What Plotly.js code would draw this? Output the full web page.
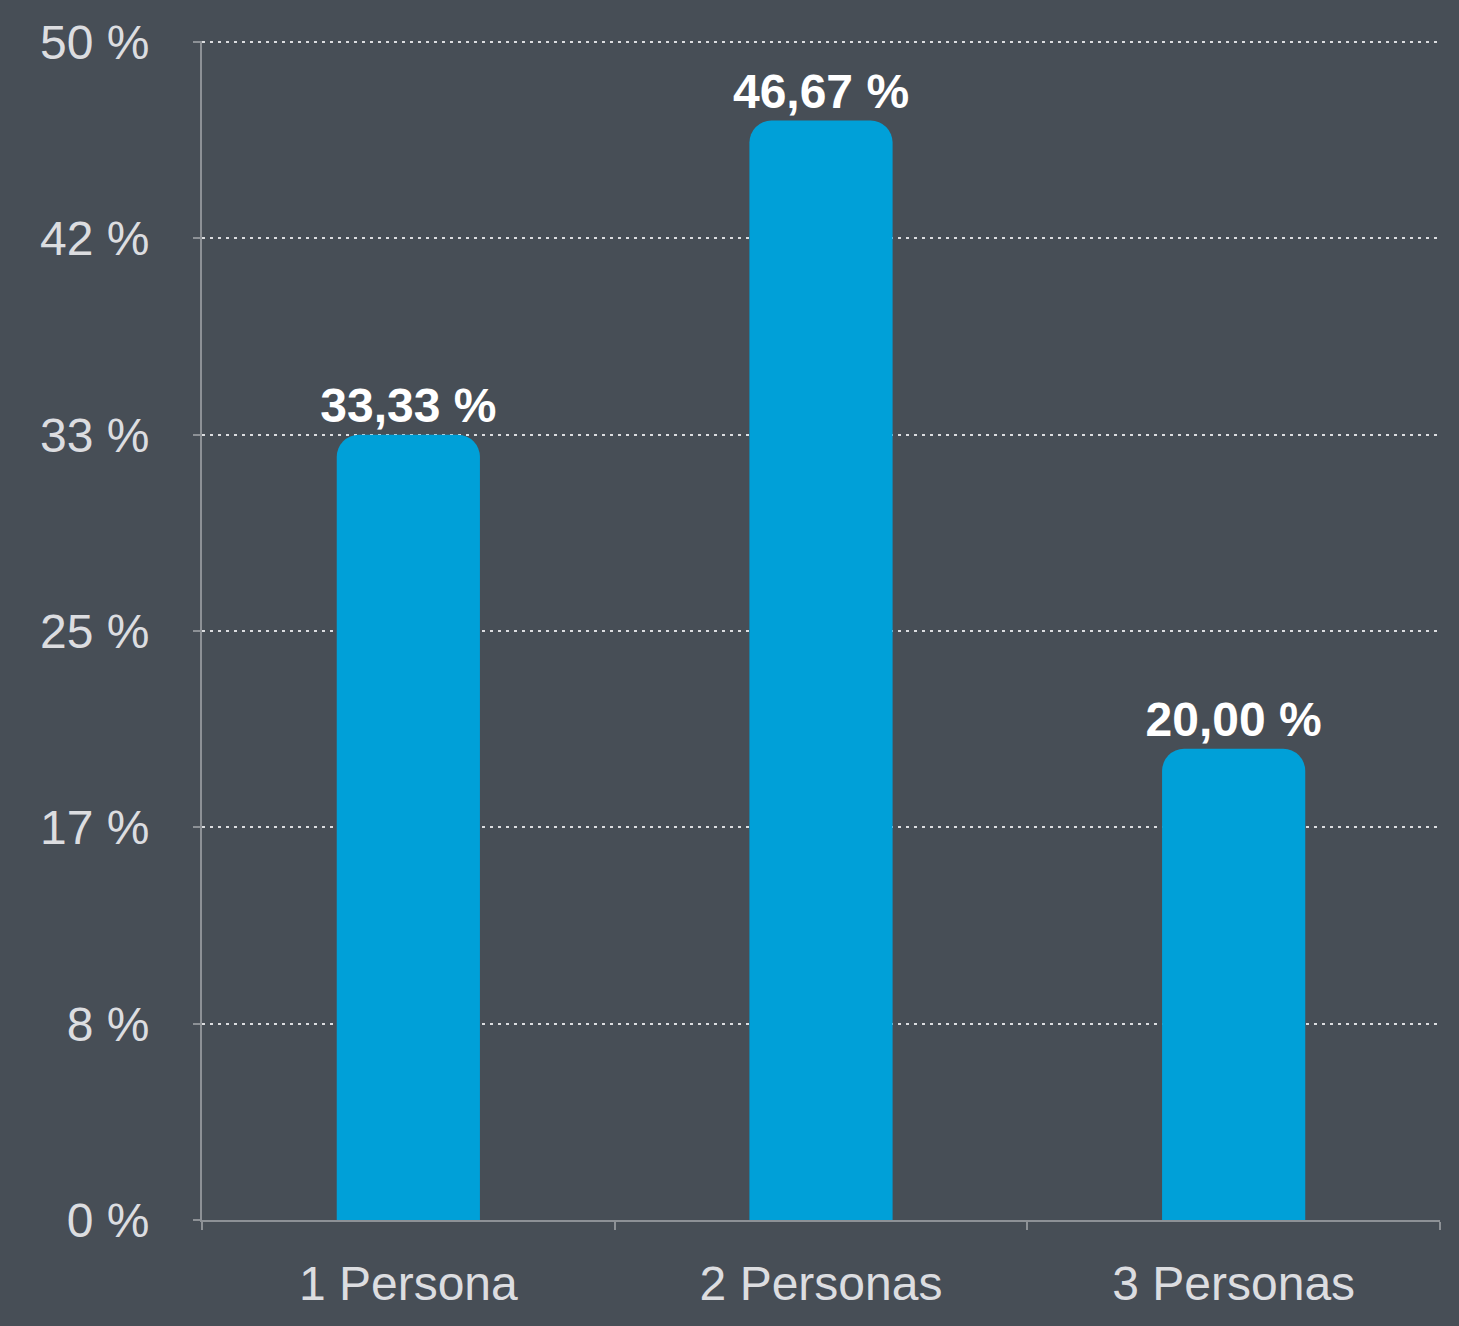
<!DOCTYPE html>
<html>
<head>
<meta charset="utf-8">
<script src="https://cdn.plot.ly/plotly-3.0.1.min.js"></script>
<style>
html,body{margin:0;padding:0;background:#474e56;}
#chart{width:1459px;height:1326px;}
</style>
</head>
<body>
<div id="chart"></div>
<script>
const categories = ["1 Persona", "2 Personas", "3 Personas"];
const values = [33.33, 46.67, 20.00];
const valueLabels = ["33,33 %", "46,67 %", "20,00 %"];
const yTickVals = [0, 8.333, 16.667, 25, 33.333, 41.667, 50];
const yTickText = ["0 %", "8 %", "17 %", "25 %", "33 %", "42 %", "50 %"];

const FONT = '"Liberation Sans", Arial, Helvetica, sans-serif';
const AXIS = '#8d9196';
const LABEL = '#dcdde0';

const trace = {
  type: 'bar',
  x: categories,
  y: values,
  text: valueLabels,
  texttemplate: '%{text}',
  textposition: 'outside',
  constraintext: 'none',
  cliponaxis: false,
  textfont: {family: FONT, size: 48, color: '#ffffff', weight: 'bold'},
  marker: {color: '#00a0d8', cornerradius: 22, line: {width: 0}},
  width: 0.347,
  hoverinfo: 'none'
};

const layout = {
  width: 1459,
  height: 1326,
  paper_bgcolor: '#474e56',
  plot_bgcolor: '#474e56',
  margin: {l: 202, r: 19, t: 41, b: 106},
  showlegend: false,
  font: {family: FONT, color: LABEL},
  xaxis: {
    type: 'category',
    showgrid: false,
    showline: true,
    linecolor: AXIS,
    linewidth: 2,
    ticks: 'outside',
    tickson: 'boundaries',
    ticklen: 8,
    tickwidth: 2,
    tickcolor: AXIS,
    tickfont: {family: FONT, size: 48, color: LABEL},
    ticklabelstandoff: 20,
    zeroline: false,
    fixedrange: true
  },
  yaxis: {
    range: [0, 50.05],
    tickmode: 'array',
    tickvals: yTickVals,
    ticktext: yTickText,
    showgrid: true,
    gridcolor: '#dcdde0',
    gridwidth: 2,
    griddash: '3px,5px',
    showline: true,
    linecolor: AXIS,
    linewidth: 2,
    ticks: 'outside',
    ticklen: 7,
    tickwidth: 2,
    tickcolor: AXIS,
    tickfont: {family: FONT, size: 48, color: LABEL},
    ticklabelstandoff: 34,
    zeroline: false,
    fixedrange: true
  }
};

Plotly.newPlot('chart', [trace], layout, {displayModeBar: false, staticPlot: true});
</script>
</body>
</html>
